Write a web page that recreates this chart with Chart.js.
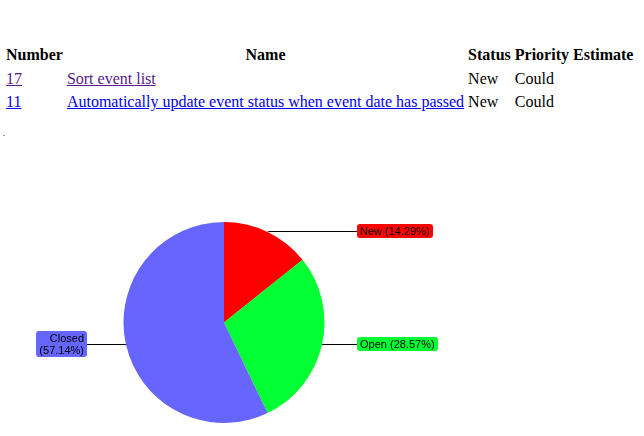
<!DOCTYPE html>
<html>
<head>
<meta charset="utf-8">
<script src="https://cdn.jsdelivr.net/npm/chart.js@4"></script>
<style>
  html, body { margin: 0; padding: 0; background: #fff; width: 644px; height: 436px; overflow: hidden; }
  body { font-family: "Liberation Serif", "Times New Roman", serif; font-size: 16px; color: #000; }
  #tbl { position: absolute; left: 3px; top: 42px; border-spacing: 2px; }
  #tbl th, #tbl td { padding: 1px; line-height: 19.5px; white-space: nowrap; }
  #tbl th { font-weight: bold; text-align: center; }
  #tbl td { text-align: left; }
  a.visited { color: #551A8B; }
  a.link { color: #0000EE; }
  #dot { position: absolute; left: 3px; top: 135px; width: 2px; height: 1px; background: #999; }
  #chartWrap { position: absolute; left: 0; top: 0; width: 644px; height: 436px; pointer-events: none; }
</style>
</head>
<body>
<table id="tbl">
  <thead>
    <tr><th>Number</th><th>Name</th><th>Status</th><th>Priority</th><th>Estimate</th></tr>
  </thead>
  <tbody id="tbody"></tbody>
</table>
<div id="dot"></div>
<div id="chartWrap"><canvas id="c" width="644" height="436"></canvas></div>
<script>
// ---- table data ----
const ticketNumbers = ['17', '11'];
const ticketNames = ['Sort event list', 'Automatically update event status when event date has passed'];
const ticketStatus = ['New', 'New'];
const ticketPriority = ['Could', 'Could'];
const ticketEstimate = ['', ''];
const ticketVisited = [true, false];

// ---- pie data ----
const categories = ['New', 'Open', 'Closed'];
const counts = [1, 2, 4];
const sliceColors = ['#FF0000', '#00FF33', '#6666FF'];

// build table
const tbody = document.getElementById('tbody');
ticketNumbers.forEach((n, i) => {
  const cls = ticketVisited[i] ? 'visited' : 'link';
  const tr = document.createElement('tr');
  tr.innerHTML = '<td><a class="' + cls + '" href="#">' + n + '</a></td>' +
    '<td><a class="' + cls + '" href="#">' + ticketNames[i] + '</a></td>' +
    '<td>' + ticketStatus[i] + '</td>' +
    '<td>' + ticketPriority[i] + '</td>' +
    '<td>' + ticketEstimate[i] + '</td>';
  tbody.appendChild(tr);
});

const total = counts.reduce((a, b) => a + b, 0);

function roundRect(ctx, x, y, w, h, r) {
  ctx.beginPath();
  ctx.moveTo(x + r, y);
  ctx.lineTo(x + w - r, y);
  ctx.arcTo(x + w, y, x + w, y + r, r);
  ctx.lineTo(x + w, y + h - r);
  ctx.arcTo(x + w, y + h, x + w - r, y + h, r);
  ctx.lineTo(x + r, y + h);
  ctx.arcTo(x, y + h, x, y + h - r, r);
  ctx.lineTo(x, y + r);
  ctx.arcTo(x, y, x + r, y, r);
  ctx.closePath();
}

const labelPlugin = {
  id: 'sliceLabels',
  afterDatasetsDraw(chart) {
    const ctx = chart.ctx;
    const meta = chart.getDatasetMeta(0);
    ctx.save();
    ctx.font = '11px "Liberation Sans", Arial, sans-serif';
    ctx.textBaseline = 'middle';
    meta.data.forEach((arc, i) => {
      const p = arc.getProps(['x', 'y', 'startAngle', 'endAngle', 'outerRadius'], true);
      const mid = (p.startAngle + p.endAngle) / 2;
      const r = p.outerRadius;
      const px = p.x + Math.cos(mid) * r;
      const py = p.y + Math.sin(mid) * r;
      const pct = (counts[i] / total * 100).toFixed(2);
      const right = Math.cos(mid) >= 0;
      const lines = right ? [categories[i] + ' (' + pct + '%)'] : [categories[i], '(' + pct + '%)'];
      const lineH = 12;
      const tw = Math.max(...lines.map(l => ctx.measureText(l).width));
      const bw = Math.round(tw + 6);
      const bh = lines.length * lineH + 2;
      const ly = Math.round(py) - 0.5;
      let bx;
      if (right) {
        bx = Math.round(p.x + r + 32);
      } else {
        bx = Math.round(p.x - r - 37) - bw;
      }
      // leader line
      ctx.strokeStyle = '#000';
      ctx.lineWidth = 1;
      ctx.beginPath();
      ctx.moveTo(px, py);
      ctx.lineTo(right ? px + 1 : px - 1, ly);
      ctx.lineTo(right ? bx : bx + bw, ly);
      ctx.stroke();
      // box
      const by = Math.round(py - 1 - bh / 2);
      ctx.fillStyle = sliceColors[i];
      roundRect(ctx, bx, by, bw, bh, 3);
      ctx.fill();
      // text
      ctx.fillStyle = '#000';
      lines.forEach((l, k) => {
        const ty = by + 1 + lineH * k + lineH / 2 + 0.5;
        if (right) {
          ctx.textAlign = 'left';
          ctx.fillText(l, bx + 3, ty);
        } else {
          ctx.textAlign = 'right';
          ctx.fillText(l, bx + bw - 3, ty);
        }
      });
    });
    ctx.restore();
  }
};

new Chart(document.getElementById('c'), {
  type: 'pie',
  data: {
    labels: categories,
    datasets: [{
      data: counts,
      backgroundColor: sliceColors,
      borderWidth: 0
    }]
  },
  options: {
    responsive: false,
    animation: false,
    devicePixelRatio: 1,
    layout: { padding: { left: 123, right: 319, top: 222, bottom: 13 } },
    plugins: {
      legend: { display: false },
      tooltip: { enabled: false }
    }
  },
  plugins: [labelPlugin]
});
</script>
</body>
</html>
